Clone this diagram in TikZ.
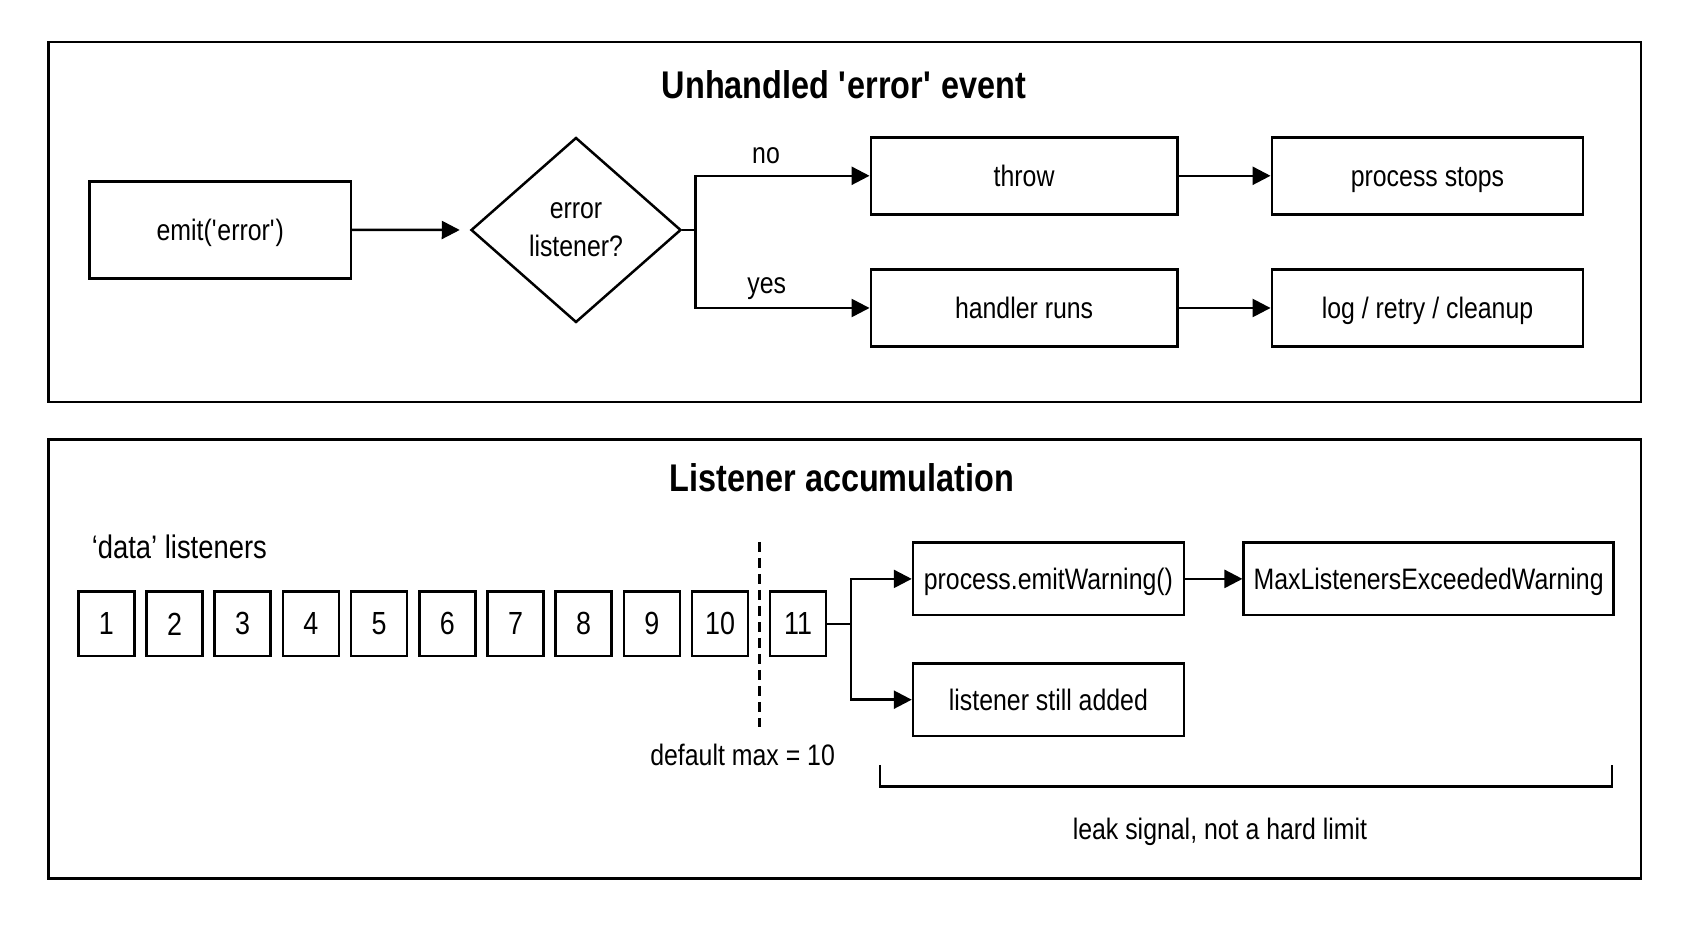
\documentclass[tikz,border=0pt]{standalone}
\usepackage{fontspec}
\setmainfont[FakeStretch=0.84]{Liberation Sans}
\usetikzlibrary{arrows.meta,shapes.geometric}
\begin{document}
\begin{tikzpicture}[x=0.5pt,y=-0.5pt,
  line width=1.25pt,
  >={Triangle[length=9pt,width=9pt]},
  panel/.style={draw,rectangle,line width=1.3pt,inner sep=0pt},
  box/.style={draw,rectangle,inner sep=0pt,text height=10.6pt,text depth=0pt,font=\fontsize{14.8}{17}\selectfont},
  numbox/.style={draw,rectangle,inner sep=0pt,minimum width=28pt,minimum height=32.2pt,font=\fontsize{16}{18}\selectfont},
  ttl/.style={font=\fontsize{19.3}{22}\selectfont\bfseries,anchor=base},
  lbl/.style={font=\fontsize{14.8}{17}\selectfont},
]
\useasboundingbox (0,0) rectangle (1692,929);
% panels
\node[panel,minimum width=796.2pt,minimum height=180pt] (p1) at (844.8,222) {};
\node[panel,minimum width=796.2pt,minimum height=219.5pt] (p2) at (844.8,658.8) {};
% top panel
\node[ttl] (t1) at (844,99) {Unhandled \textquotesingle error\textquotesingle{} event};
\node[box,minimum width=130.6pt,minimum height=48.4pt] (emit) at (220.2,229.9) {emit(\textquotesingle error\textquotesingle)};
\node[draw,diamond,inner sep=0pt,minimum width=105pt,minimum height=92.5pt,align=center,font=\fontsize{14.8}{19}\selectfont] (dec) at (576,230) {error\\listener?};
\node[box,minimum width=153.3pt,minimum height=38.5pt] (throw) at (1024.1,175.8) {throw};
\node[box,minimum width=155.7pt,minimum height=38.5pt] (stops) at (1427.5,175.8) {process stops};
\node[box,minimum width=153.3pt,minimum height=38.7pt] (handler) at (1024.1,308) {handler runs};
\node[box,minimum width=155.7pt,minimum height=38.7pt] (log) at (1427.5,308) {log / retry / cleanup};
\coordinate (j) at (695.7,230);
\draw[->,shorten >=5pt] (emit.east) -- (dec.west);
\draw (dec.east) -- (j);
\draw[->] (j) |- (throw.west);
\draw[->] (j) |- (handler.west);
\node[lbl,anchor=base] (no) at (766,163.3) {no};
\node[lbl,anchor=base] (yes) at (766.7,294) {yes};
\draw[->] (throw) -- (stops);
\draw[->] (handler) -- (log);
% bottom panel
\node[ttl] (t2) at (842,491.7) {Listener accumulation};
\node[lbl,anchor=west,inner sep=0pt,font=\fontsize{16.3}{19}\selectfont] (data) at (90.6,547) {‘data’ listeners};
\foreach \i in {1,...,10} {
  \node[numbox] (n\i) at ({106.3+68.2*(\i-1)},623.9) {\i};
}
\node[numbox] (n11) at (798,623.9) {11};
\coordinate (dtop) at (759.3,542);
\coordinate (dbot) at (759.3,727);
\draw[dash pattern=on 5pt off 3pt] (dtop) -- (dbot);
\node[lbl] (dmax) at (742.6,754.5) {default max = 10};
\node[box,minimum width=135.4pt,minimum height=36.2pt] (emitw) at (1048.4,578.9) {process.emitWarning()};
\node[box,minimum width=184.9pt,minimum height=36.2pt] (maxw) at (1428.6,578.9) {MaxListenersExceededWarning};
\node[box,minimum width=135.4pt,minimum height=36.4pt] (still) at (1048.4,699.7) {listener still added};
\coordinate (k) at (851,623.9);
\draw (n11.east) -- (k);
\draw[->] (k) |- (emitw.west);
\draw[->] (k) |- (still.west);
\draw[->] (emitw) -- (maxw);
\coordinate (bl) at (880,765);
\coordinate (bl2) at (880,786.7);
\coordinate (br) at (1612,765);
\draw (bl) -- (bl2) -| (br);
\node[lbl] (leak) at (1220,832) {leak signal, not a hard limit};
\end{tikzpicture}
\end{document}
